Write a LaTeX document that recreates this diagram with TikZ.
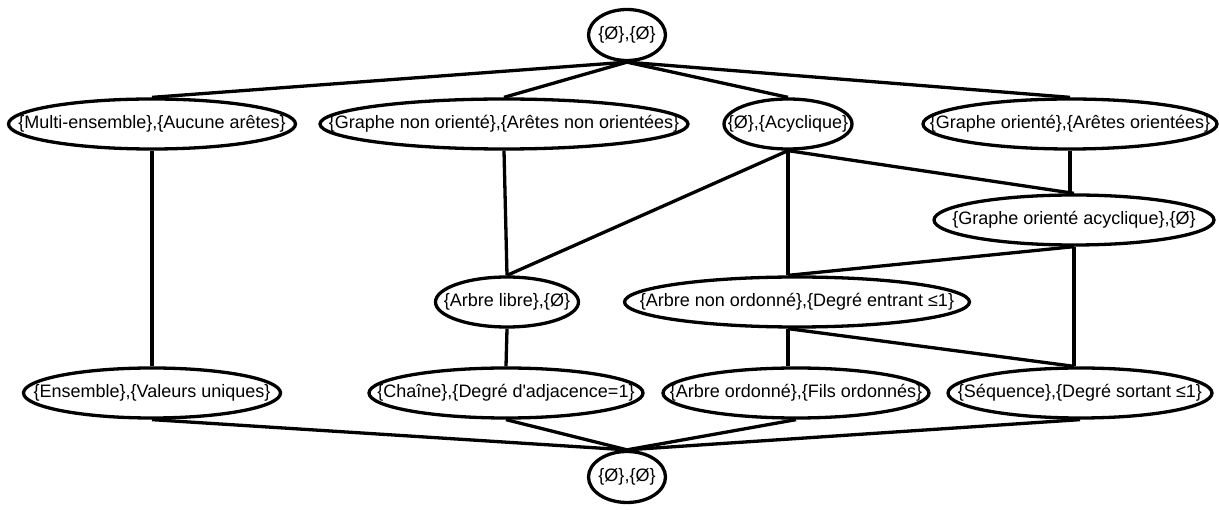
\documentclass[tikz,border=0pt]{standalone}
\usepackage{fontspec}
\setmainfont{Liberation Sans}[Ligatures=TeXOff]
\usetikzlibrary{shapes.geometric}
\begin{document}
\begin{tikzpicture}[x=1pt,y=-1pt,
  gnode/.style={ellipse,draw,line width=3.3pt,minimum width=#1,minimum height=50pt,inner sep=0pt,
    font=\fontsize{18}{20}\selectfont},
  conn/.style={line width=3.3pt}]
\useasboundingbox (0,0) rectangle (1219,510);
% nodes
\node[gnode=77,minimum height=51pt] (top) at (627,35) {\makebox[0pt]{\{Ø\},\{Ø\}}};
\node[gnode=287] (multi) at (152,124) {\makebox[0pt]{\{Multi-ensemble\},\{Aucune arêtes\}}};
\node[gnode=368] (gno) at (504,124) {\makebox[0pt]{\{Graphe non orienté\},\{Arêtes non orientées\}}};
\node[gnode=128] (acyc) at (788,124) {\makebox[0pt]{\{Ø\},\{Acyclique\}}};
\node[gnode=294] (go) at (1070,124) {\makebox[0pt]{\{Graphe orienté\},\{Arêtes orientées\}}};
\node[gnode=280] (goa) at (1074,220) {\makebox[0pt]{\{Graphe orienté acyclique\},\{Ø\}}};
\node[gnode=143] (alibre) at (507,302) {\makebox[0pt]{\{Arbre libre\},\{Ø\}}};
\node[gnode=345] (ano) at (797,302) {\makebox[0pt]{\{Arbre non ordonné\},\{Degré entrant ≤1\}}};
\node[gnode=257] (ens) at (152,393) {\makebox[0pt]{\{Ensemble\},\{Valeurs uniques\}}};
\node[gnode=274] (chaine) at (506,393) {\makebox[0pt]{\{Chaîne\},\{Degré d'adjacence=1\}}};
\node[gnode=266] (ao) at (796,393) {\makebox[0pt]{\{Arbre ordonné\},\{Fils ordonnés\}}};
\node[gnode=264] (seq) at (1080,393) {\makebox[0pt]{\{Séquence\},\{Degré sortant ≤1\}}};
\node[gnode=77,minimum height=51pt] (bot) at (627,477) {\makebox[0pt]{\{Ø\},\{Ø\}}};
% connectors
\draw[conn] (top.south) -- (multi.north);
\draw[conn] (top.south) -- (gno.north);
\draw[conn] (top.south) -- (acyc.north);
\draw[conn] (top.south) -- (go.north);
\draw[conn] (multi.south) -- (ens.north);
\draw[conn] (gno.south) -- (alibre.north);
\draw[conn] (acyc.south) -- (alibre.north);
\draw[conn] (acyc.south) -- (acyc.south |- ano.north);
\draw[conn] (acyc.south) -- (goa.north);
\draw[conn] (go.south) -- (go.south |- goa.north);
\draw[conn] (goa.south) -- (acyc.south |- ano.north);
\draw[conn] (goa.south) -- (goa.south |- seq.north);
\draw[conn] (alibre.south) -- (chaine.north);
\draw[conn] (acyc.south |- ano.south) -- (acyc.south |- ao.north);
\draw[conn] (acyc.south |- ano.south) -- (goa.south |- seq.north);
\draw[conn] (ens.south) -- (bot.north);
\draw[conn] (chaine.south) -- (bot.north);
\draw[conn] (ao.south) -- (bot.north);
\draw[conn] (seq.south) -- (bot.north);
\end{tikzpicture}
\end{document}
